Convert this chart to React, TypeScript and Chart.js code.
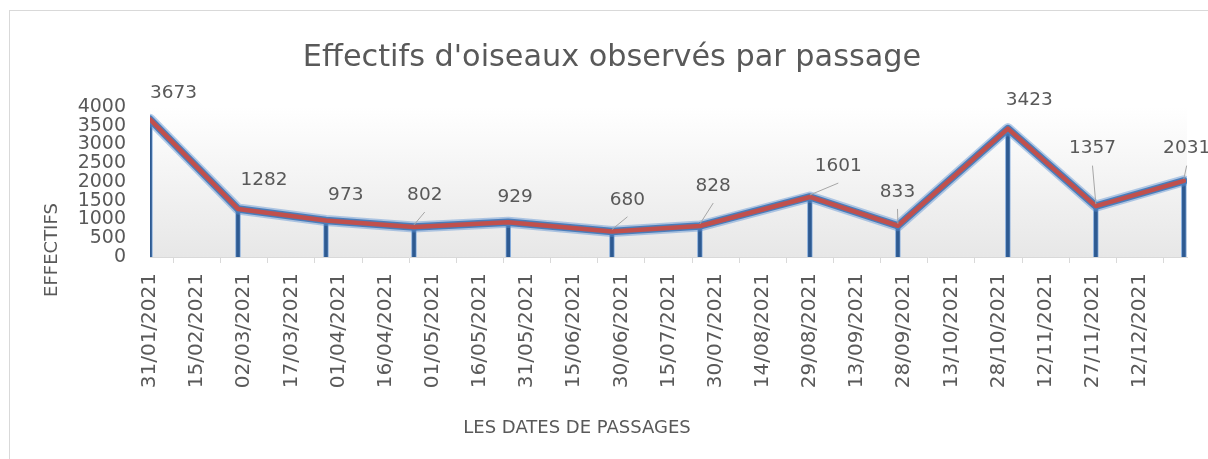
import React, { useEffect, useRef } from 'react';
import { Chart, registerables } from 'chart.js';

Chart.register(...registerables);

// ---- data ----
const chartTitle = "Effectifs d'oiseaux observés par passage";
const yAxisTitle = 'EFFECTIFS';
const xAxisTitle = 'LES DATES DE PASSAGES';

const passageDates = [
  '31/01/2021', '28/02/2021', '28/03/2021', '25/04/2021', '25/05/2021', '27/06/2021',
  '25/07/2021', '29/08/2021', '26/09/2021', '31/10/2021', '28/11/2021', '26/12/2021',
];
const effectifs = [3673, 1282, 973, 802, 929, 680, 828, 1601, 833, 3423, 1357, 2031];

const axisStartDate = '31/01/2021';
const axisEndDate = '27/12/2021';
const tickStepDays = 15;

const yMin = 0;
const yMax = 4000;
const yStep = 500;

// label placement (pixel offsets from each point) and leader-line flags
const labelOffsets = [
  [23.5, -26.5], [26, -28.6], [19.8, -25.2], [10.8, -31.9], [6.8, -24.9], [15.5, -31.7],
  [13.3, -39.9], [28.4, -30.9], [-0.4, -33.8], [21.4, -28.3], [-3.4, -57.5], [2.8, -32.2],
];
const leaderLines = [false, false, false, true, false, true, true, true, true, false, true, true];

// ---- helpers ----
const DAY = 86400000;
const parseDate = (s: string) => {
  const [d, m, y] = s.split('/').map(Number);
  return Date.UTC(y, m - 1, d);
};
const startMs = parseDate(axisStartDate);
const toDay = (s: string) => Math.round((parseDate(s) - startMs) / DAY);
const axisMaxDay = toDay(axisEndDate);
const pad2 = (n: number) => (n < 10 ? '0' + n : '' + n);
const formatDay = (day: number) => {
  const d = new Date(startMs + day * DAY);
  return `${pad2(d.getUTCDate())}/${pad2(d.getUTCMonth() + 1)}/${d.getUTCFullYear()}`;
};

const FONT = "'DejaVu Sans', sans-serif";
const TEXT = '#595959';

export default function App() {
  const ref = useRef<HTMLCanvasElement | null>(null);

  useEffect(() => {
    if (!ref.current) return;
    const points = passageDates.map((d, i) => ({ x: toDay(d), y: effectifs[i] }));

    const plotBackground = {
      id: 'plotBackground',
      beforeDatasetsDraw(chart: any) {
        const { ctx, chartArea: a } = chart;
        const g = ctx.createLinearGradient(0, a.top, 0, a.bottom);
        g.addColorStop(0, '#ffffff');
        g.addColorStop(1, '#e7e7e7');
        ctx.save();
        ctx.fillStyle = g;
        ctx.fillRect(a.left, a.top, a.right - a.left, a.bottom - a.top);
        ctx.restore();
      },
    };

    const dataLabels = {
      id: 'dataLabels',
      afterDatasetsDraw(chart: any) {
        const { ctx } = chart;
        const meta = chart.getDatasetMeta(3);
        ctx.save();
        ctx.font = `18.5px ${FONT}`;
        ctx.fillStyle = TEXT;
        ctx.textAlign = 'center';
        ctx.textBaseline = 'middle';
        meta.data.forEach((el: any, i: number) => {
          const lx = el.x + labelOffsets[i][0];
          const ly = el.y + labelOffsets[i][1];
          if (leaderLines[i]) {
            ctx.strokeStyle = '#a6a6a6';
            ctx.lineWidth = 1;
            ctx.beginPath();
            ctx.moveTo(lx, ly + 17);
            ctx.lineTo(el.x, el.y - 2);
            ctx.stroke();
          }
          ctx.fillText(String(effectifs[i]), lx, ly);
        });
        ctx.restore();
      },
    };

    const titles = {
      id: 'titles',
      afterDraw(chart: any) {
        const { ctx } = chart;
        ctx.save();
        ctx.fillStyle = TEXT;
        ctx.textAlign = 'center';
        ctx.textBaseline = 'alphabetic';
        ctx.font = `30.3px ${FONT}`;
        ctx.fillText(chartTitle, 612, 66);
        ctx.font = `18px ${FONT}`;
        ctx.textBaseline = 'middle';
        ctx.fillText(xAxisTitle, 577, 428);
        ctx.translate(52, 250);
        ctx.rotate(-Math.PI / 2);
        ctx.fillText(yAxisTitle, 0, 0);
        ctx.restore();
      },
    };

    const lineBase = {
      type: 'line' as const,
      data: points,
      pointRadius: 0,
      fill: false,
      tension: 0,
      borderJoinStyle: 'round' as const,
      borderCapStyle: 'round' as const,
    };

    const chart = new Chart(ref.current, {
      type: 'line',
      data: {
        datasets: [
          {
            type: 'bar',
            data: points,
            backgroundColor: '#2d5a92',
            borderColor: 'rgba(120,165,220,0.85)',
            borderWidth: 1,
            barThickness: 5,
            order: 4,
          } as any,
          { ...lineBase, borderColor: 'rgba(91,145,210,0.45)', borderWidth: 11, order: 3 },
          { ...lineBase, borderColor: '#4a7dba', borderWidth: 7.5, order: 2 },
          { ...lineBase, borderColor: '#c0504d', borderWidth: 4.5, order: 1 },
        ],
      },
      options: {
        animation: false,
        responsive: false,
        parsing: false as any,
        layout: { padding: { top: 107, right: 21, bottom: 0, left: 0 } },
        plugins: {
          legend: { display: false },
          tooltip: { enabled: false },
          title: { display: false },
        },
        scales: {
          x: {
            type: 'linear',
            min: 0,
            max: axisMaxDay,
            offset: false,
            grid: { display: true, drawOnChartArea: false, drawTicks: true, tickLength: 6, color: '#d9d9d9' },
            border: { display: true, color: '#d9d9d9', width: 1 },
            ticks: {
              stepSize: tickStepDays,
              autoSkip: false,
              minRotation: 90,
              maxRotation: 90,
              padding: 10,
              color: TEXT,
              font: { family: FONT, size: 20 },
              callback: (v: any) => (Number(v) >= axisMaxDay ? '' : formatDay(Number(v))),
            },
            afterFit: (s: any) => {
              s.height = 202;
              s.paddingLeft = 0;
              s.paddingRight = 0;
            },
          },
          y: {
            min: yMin,
            max: yMax,
            grid: { display: false, drawTicks: false },
            border: { display: false },
            ticks: {
              stepSize: yStep,
              autoSkip: false,
              padding: 24,
              color: TEXT,
              font: { family: FONT, size: 19 },
              callback: (v: any) => String(v),
            },
            afterFit: (s: any) => {
              s.width = 150;
            },
          },
        },
      },
      plugins: [plotBackground, dataLabels, titles],
    });
    return () => chart.destroy();
  }, []);

  return (
    <div
      style={{
        position: 'fixed',
        left: 0,
        top: 0,
        width: 1208,
        height: 459,
        overflow: 'hidden',
        background: '#fff',
      }}
    >
      <div
        style={{
          position: 'absolute',
          left: 9,
          top: 10,
          width: 1300,
          height: 600,
          border: '1px solid #d9d9d9',
          boxSizing: 'border-box',
        }}
      />
      <canvas ref={ref} width={1208} height={459} style={{ position: 'absolute', left: 0, top: 0 }} />
    </div>
  );
}
